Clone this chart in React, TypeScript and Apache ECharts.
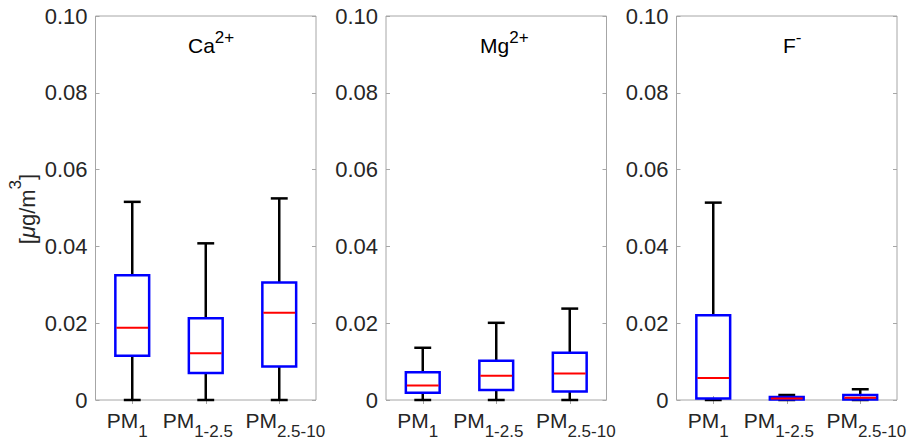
import React, { useEffect, useRef } from "react";
import * as echarts from "echarts";

// categories (size fractions): main text + subscript
const catMain = ["PM", "PM", "PM"];
const catSub = ["1", "1-2.5", "2.5-10"];

// panel titles: ion + charge (superscript)
const ions = ["Ca", "Mg", "F"];
const charges = ["2+", "2+", "-"];

// box statistics per category: [low whisker, Q1, median, Q3, high whisker]
const caStats = [
  [0, 0.0115, 0.0188, 0.0325, 0.0516],
  [0, 0.0070, 0.0122, 0.0213, 0.0408],
  [0, 0.0087, 0.0227, 0.0306, 0.0525],
];
const mgStats = [
  [0, 0.0019, 0.0038, 0.0072, 0.0136],
  [0, 0.0026, 0.0063, 0.0102, 0.0201],
  [0, 0.0022, 0.0069, 0.0123, 0.0238],
];
const fStats = [
  [0, 0.0004, 0.0057, 0.0221, 0.0514],
  [0, 0.0001, 0.0004, 0.0008, 0.0013],
  [0, 0.0001, 0.0006, 0.0013, 0.0028],
];
const panels = [caStats, mgStats, fStats];

const yTicks = [0, 0.02, 0.04, 0.06, 0.08, 0.1];
const yLabelParts = ["[", "\u03bc", "g/m", "3", "]"];

const FONT = "Liberation Sans, Arial, sans-serif";
const TEXT = "#262626";
const AXIS = "#a6a6a6";

const gridLefts = [95.5, 386, 676.5];
const gridWidth = 220.5;
const gridTop = 16;
const gridHeight = 384;
const titleX = [188, 480, 783];
// horizontal nudge (px) of each category label, as in the reference layout
const labelShift = [-5, -8, 6];

export default function App() {
  const ref = useRef<HTMLDivElement>(null);
  useEffect(() => {
    if (!ref.current) return;
    const chart = echarts.init(ref.current, null, { renderer: "svg" });

    const grids: any[] = [];
    const xAxes: any[] = [];
    const yAxes: any[] = [];
    const series: any[] = [];
    const graphics: any[] = [];

    const richX: any = {};
    catMain.forEach((_, i) => {
      const s = labelShift[i];
      richX["a" + i] = {
        fontSize: 21, fontFamily: FONT, color: TEXT, lineHeight: 21, verticalAlign: "top",
        padding: [0, 0, 0, s > 0 ? 2 * s : 0],
      };
      richX["b" + i] = {
        fontSize: 17, fontFamily: FONT, color: TEXT, lineHeight: 29.5, verticalAlign: "bottom",
        padding: [0, s < 0 ? -2 * s : 0, 0, 0],
      };
    });

    panels.forEach((stats, p) => {
      grids.push({
        left: gridLefts[p],
        top: gridTop,
        width: gridWidth,
        height: gridHeight,
        show: true,
        borderColor: AXIS,
        borderWidth: 1,
        backgroundColor: "#fff",
      });
      const catData = catMain.map((_, i) => String(i));
      xAxes.push({
        type: "category",
        gridIndex: p,
        data: catData,
        boundaryGap: true,
        axisLine: { show: false },
        axisTick: { show: true, inside: true, alignWithLabel: true, length: 4, lineStyle: { color: AXIS } },
        axisLabel: {
          margin: 10,
          interval: 0,
          formatter: (v: string) => {
            const i = Number(v);
            return `{a${i}|${catMain[i]}}{b${i}|${catSub[i]}}`;
          },
          rich: richX,
        },
        splitLine: { show: false },
      });
      xAxes.push({
        type: "category",
        gridIndex: p,
        position: "top",
        data: catData,
        boundaryGap: true,
        axisLine: { show: false },
        axisTick: { show: true, inside: true, alignWithLabel: true, length: 4, lineStyle: { color: AXIS } },
        axisLabel: { show: false },
        splitLine: { show: false },
      });
      const yBase = {
        type: "value",
        gridIndex: p,
        min: 0,
        max: 0.1,
        interval: 0.02,
        axisLine: { show: false },
        splitLine: { show: false },
        axisTick: { show: true, inside: true, length: 4, lineStyle: { color: AXIS } },
      };
      yAxes.push({
        ...yBase,
        position: "left",
        axisLabel: {
          fontSize: 22,
          fontFamily: FONT,
          color: TEXT,
          margin: 8,
          formatter: (v: number) => {
            const t = yTicks.find((k) => Math.abs(k - v) < 1e-9);
            const val = t === undefined ? v : t;
            return val === 0 ? "0" : val.toFixed(2);
          },
        },
      });
      yAxes.push({ ...yBase, position: "right", axisLabel: { show: false } });

      series.push({
        type: "custom",
        xAxisIndex: p * 2,
        yAxisIndex: p * 2,
        clip: false,
        data: stats.map((s, i) => [i, ...s]),
        encode: { x: 0, y: [1, 2, 3, 4, 5] },
        renderItem: (params: any, api: any) => {
          const xi = api.value(0);
          const lo = api.coord([xi, api.value(1)]);
          const q1 = api.coord([xi, api.value(2)]);
          const md = api.coord([xi, api.value(3)]);
          const q3 = api.coord([xi, api.value(4)]);
          const hi = api.coord([xi, api.value(5)]);
          const band = api.size([1, 0])[0];
          const bw = band * 0.46;
          const cw = bw / 2;
          const cx = lo[0];
          const black = { stroke: "#000", lineWidth: 2.5, fill: null };
          return {
            type: "group",
            children: [
              { type: "line", shape: { x1: cx, y1: q3[1], x2: cx, y2: hi[1] }, style: black },
              { type: "line", shape: { x1: cx, y1: q1[1], x2: cx, y2: lo[1] }, style: black },
              { type: "line", shape: { x1: cx - cw / 2, y1: hi[1], x2: cx + cw / 2, y2: hi[1] }, style: black },
              { type: "line", shape: { x1: cx - cw / 2, y1: lo[1], x2: cx + cw / 2, y2: lo[1] }, style: black },
              {
                type: "rect",
                shape: { x: cx - bw / 2, y: q3[1], width: bw, height: q1[1] - q3[1] },
                style: { stroke: "#0000ff", lineWidth: 2.5, fill: null },
              },
              {
                type: "line",
                shape: { x1: cx - bw / 2 + 1, y1: md[1], x2: cx + bw / 2 - 1, y2: md[1] },
                style: { stroke: "#ff0000", lineWidth: 2, fill: null },
              },
            ],
          };
        },
      });

      graphics.push({
        type: "text",
        left: titleX[p],
        top: 29,
        style: {
          text: `{a|${ions[p]}}{s|${charges[p]}}`,
          rich: {
            a: { fontSize: 21, fontFamily: FONT, fill: "#000", lineHeight: 27, verticalAlign: "bottom" },
            s: { fontSize: 17, fontFamily: FONT, fill: "#000", lineHeight: 17, verticalAlign: "top" },
          },
        },
      });
    });

    graphics.push({
      type: "text",
      x: 23,
      y: 209,
      rotation: Math.PI / 2,
      style: {
        text: `{t|${yLabelParts[0]}}{m|${yLabelParts[1]}}{t|${yLabelParts[2]}}{s|${yLabelParts[3]}}{t|${yLabelParts[4]}}`,
        align: "center",
        verticalAlign: "middle",
        rich: {
          t: { fontSize: 22, fontFamily: FONT, fill: TEXT, lineHeight: 31.5, verticalAlign: "bottom" },
          m: { fontSize: 22, fontFamily: FONT, fontStyle: "italic", fill: TEXT, lineHeight: 31.5, verticalAlign: "bottom" },
          s: { fontSize: 17, fontFamily: FONT, fill: TEXT, lineHeight: 17, verticalAlign: "top" },
        },
      },
    });

    chart.setOption({
      animation: false,
      backgroundColor: "#fff",
      grid: grids,
      xAxis: xAxes,
      yAxis: yAxes,
      series,
      graphic: graphics,
    });
    return () => chart.dispose();
  }, []);
  return (
    <div
      ref={ref}
      style={{ position: "fixed", left: 0, top: 0, width: 915, height: 443, background: "#fff" }}
    />
  );
}
